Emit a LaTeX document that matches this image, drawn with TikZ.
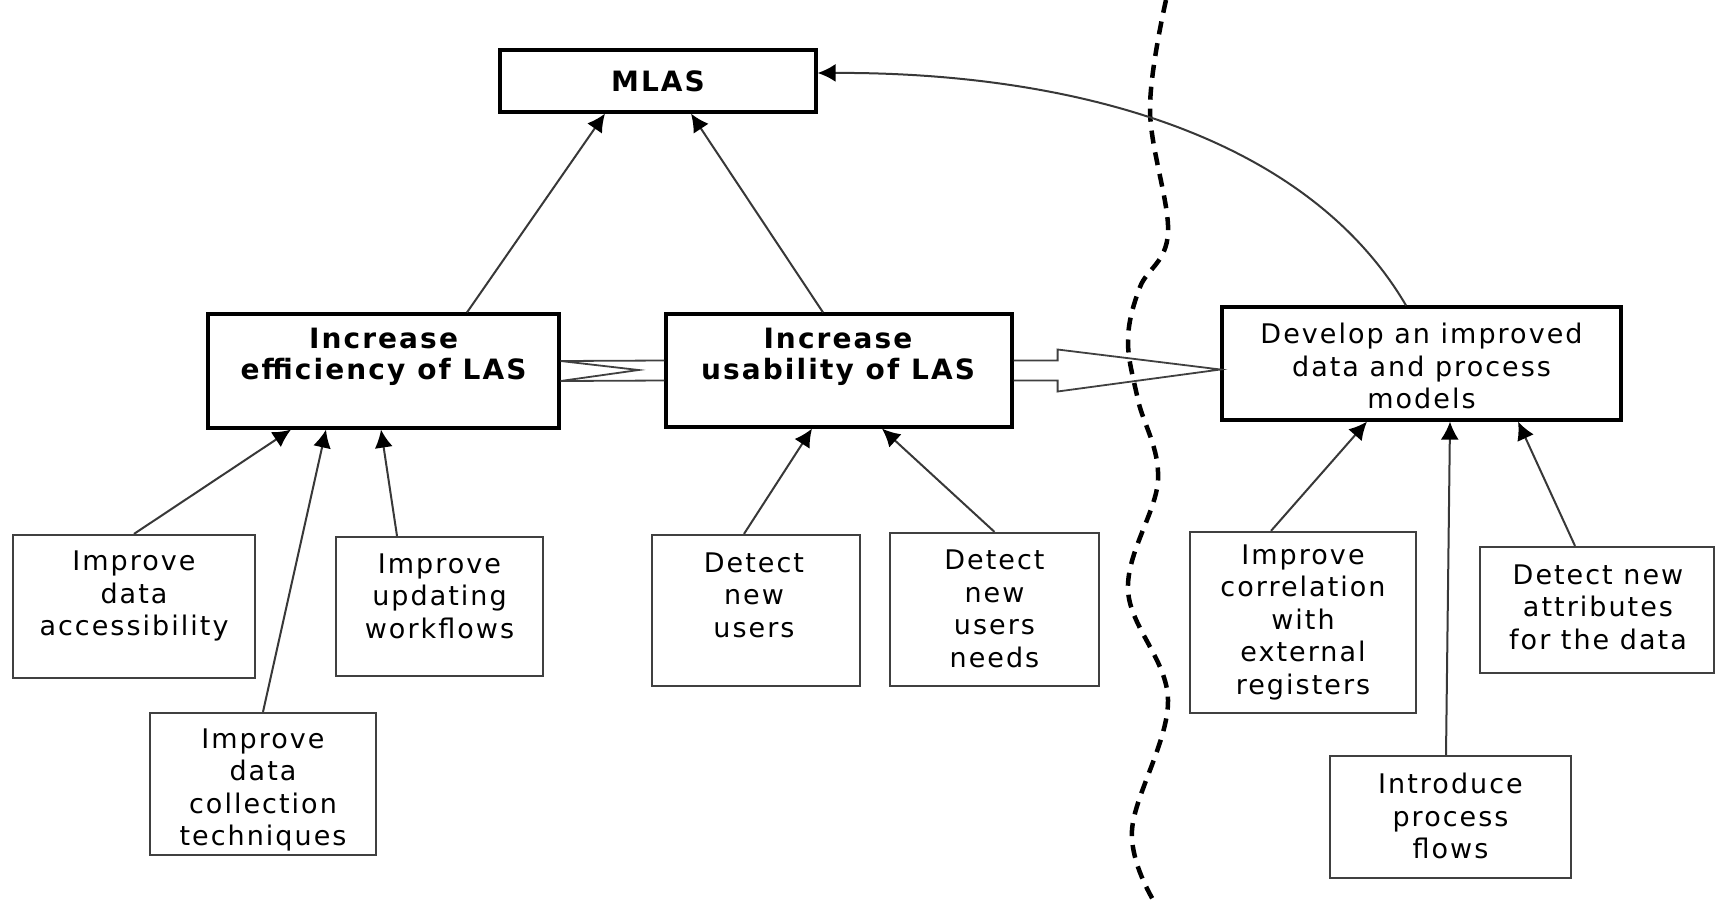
\documentclass[tikz,border=0pt]{standalone}
\usepackage{fontspec}
\setmainfont{DejaVu Sans}[LetterSpace=7.5]
\usetikzlibrary{arrows.meta,calc}
\begin{document}
\begin{tikzpicture}[x=1pt,y=-1pt,
  bigbox/.style={draw=black,line width=3.2pt,inner sep=0pt},
  smallbox/.style={draw=black!75,line width=2.2pt,inner sep=0pt},
  txt/.style={align=center,font=\fontsize{27}{32.5}\selectfont,inner sep=0pt},
  btxt/.style={align=center,font=\fontsize{28}{31}\selectfont\bfseries,inner sep=0pt},
  arr/.style={draw=black!78,line width=2pt,-{Latex[length=18pt,width=18pt,black]}},
  hollow/.style={draw=black!75,line width=1.8pt,line join=miter},
  wave/.style={draw=black,line width=4.5pt,dash pattern=on 13pt off 9pt}
]
\useasboundingbox (0,0) rectangle (1715,903);

% dashed separator
\draw[wave] plot[smooth,tension=0.6] coordinates {(1166,0) (1150,110) (1168,233) (1140,287) (1128,340) (1138,400) (1158,480) (1128,590) (1168,700) (1132,830) (1155,903)};

% boxes
\node[bigbox,minimum width=316pt,minimum height=62pt] (mlas) at (658,81) {};
\node[bigbox,minimum width=351pt,minimum height=114pt] (eff) at (383.5,371) {};
\node[bigbox,minimum width=346pt,minimum height=113pt] (usab) at (839,370.5) {};
\node[bigbox,minimum width=399pt,minimum height=113pt] (dev) at (1421.5,363.5) {};
\node[smallbox,minimum width=242pt,minimum height=143pt] (acc) at (134,606.5) {};
\node[smallbox,minimum width=207pt,minimum height=139pt] (upd) at (439.5,606.5) {};
\node[smallbox,minimum width=226pt,minimum height=142pt] (col) at (263,784) {};
\node[smallbox,minimum width=208pt,minimum height=151pt] (users) at (756,610.5) {};
\node[smallbox,minimum width=209pt,minimum height=153pt] (needs) at (994.5,609.5) {};
\node[smallbox,minimum width=226pt,minimum height=181pt] (corr) at (1303,622.5) {};
\node[smallbox,minimum width=234pt,minimum height=126pt] (attr) at (1597,610) {};
\node[smallbox,minimum width=241pt,minimum height=122pt] (flows) at (1450.5,817) {};

% texts
\node[btxt] (mlast) at (658,81) {MLAS};
\node[btxt] (efft) at (383.5,357) {Increase\\efficiency of LAS};
\node[btxt] (usabt) at (838,357) {Increase\\usability of LAS};
\node[txt] (devt) at (1421.5,366) {Develop an improved\\data and process\\models};
\node[txt] (acct) at (134,596) {Improve\\data\\accessibility};
\node[txt] (updt) at (439.5,596) {Improve\\updating\\workflows};
\node[txt] (colt) at (263,790) {Improve\\data\\collection\\techniques};
\node[txt] (userst) at (754,595) {Detect\\new\\users};
\node[txt] (needst) at (994.5,609) {Detect\\new\\users\\needs};
\node[txt] (corrt) at (1303,622) {Improve\\correlation\\with\\external\\registers};
\node[txt] (attrt) at (1598,607) {Detect new\\attributes\\for the data};
\node[txt] (flowst) at (1450.5,816) {Introduce\\process\\flows};

% arrows to MLAS
\draw[arr] ([xshift=83.5pt]eff.north) -- ([xshift=-53pt]mlas.south);
\draw[arr] ([xshift=-16pt]usab.north) -- ([xshift=33pt]mlas.south);
\draw[arr] ([xshift=-15.5pt]dev.north) .. controls (1300,125) and (1050,72) .. ([yshift=8pt]mlas.east);

% arrows to efficiency
\draw[arr] (acc.north) -- ([xshift=-92.5pt]eff.south);
\draw[arr] (col.north) -- ([xshift=-57.5pt]eff.south);
\draw[arr] ([xshift=-42.5pt]upd.north) -- ([xshift=-2.5pt]eff.south);

% arrows to usability
\draw[arr] ([xshift=-12pt]users.north) -- ([xshift=-27pt]usab.south);
\draw[arr] (needs.north) -- ([xshift=43pt]usab.south);

% arrows to develop
\draw[arr] ([xshift=-32pt]corr.north) -- ([xshift=-54.5pt]dev.south);
\draw[arr] ([xshift=-4.5pt]flows.north) -- ([xshift=28.5pt]dev.south);
\draw[arr] ([xshift=-22pt]attr.north) -- ([xshift=96.5pt]dev.south);

% hollow arrow between efficiency and usability
\coordinate (chev) at ($(eff.east)+(78,-1)$);
\draw[hollow] ([yshift=10pt]eff.east) -- ([yshift=10pt]usab.west);
\draw[hollow] ([yshift=-10pt]eff.east) -- ([yshift=-10pt]usab.west);
\draw[hollow] ([yshift=10pt]eff.east) -- (chev) -- ([yshift=-10pt]eff.east);

% hollow block arrow usability -> develop
\coordinate (tip) at ([yshift=-6pt]dev.west);
\draw[hollow] ([yshift=10pt]usab.east) -- ++(44,0) -- ++(0,-11) -- (tip)
  -- ($([yshift=-10pt]usab.east)+(44,11)$) -- ++(0,-11) -- ([yshift=-10pt]usab.east);
\end{tikzpicture}
\end{document}
